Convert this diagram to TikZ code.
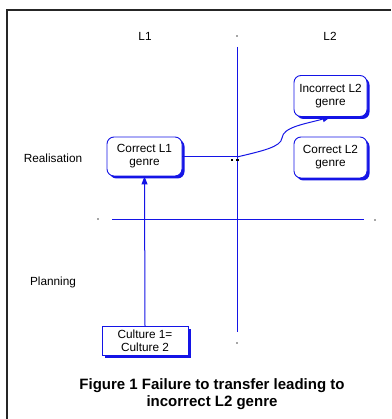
\documentclass[tikz,border=0pt]{standalone}
\usepackage{fontspec}
\setmainfont{Liberation Sans}
\usetikzlibrary{arrows.meta,shadows}
\definecolor{lineblue}{RGB}{20,20,230}
\tikzset{
  genrebox/.style={draw=lineblue, line width=0.9pt, fill=white, rounded corners=7pt,
    minimum width=75pt, minimum height=39pt, align=center, font=\fontsize{11.8}{13}\selectfont,
    drop shadow={shadow xshift=2.5pt, shadow yshift=-2.5pt, fill=lineblue, opacity=1}},
  culturebox/.style={draw=lineblue, line width=0.9pt, fill=white,
    minimum width=86pt, minimum height=28pt, align=center, font=\fontsize{11.8}{13}\selectfont,
    drop shadow={shadow xshift=2.5pt, shadow yshift=-2.5pt, fill=lineblue, opacity=1}},
  axis/.style={draw=lineblue, line width=1pt},
  link/.style={draw=lineblue, line width=1pt},
  arrowlink/.style={link, -{Triangle[length=8pt,width=6pt]}},
  label/.style={font=\fontsize{11.8}{13}\selectfont},
  caption/.style={font=\bfseries\fontsize{15}{17}\selectfont, align=center},
  tick/.style={fill=gray!70, inner sep=0pt, minimum size=1.2pt},
}
\begin{document}
\begin{tikzpicture}[x=1pt,y=-1pt]
\useasboundingbox (0,0) rectangle (391,419);
\fill[white] (0,0) rectangle (391,419);

% page frame (top and left edges)
\draw[line width=1.4pt, black!85] (7,419) -- (7,10) -- (391,10);

% column and row labels
\node[label] (l1) at (145,36) {L1};
\node[label] (l2) at (330,36) {L2};
\node[label] (real) at (53,158) {Realisation};
\node[label] (plan) at (53,282) {Planning};

% axes
\coordinate (vtop) at (237,47);
\coordinate (vbot) at (237,332);
\coordinate (hleft) at (112,219);
\coordinate (hright) at (364,219);
\draw[axis] (vtop) -- (vbot);
\draw[axis] (hleft) -- (hright);

% faint end marks
\node[tick] (m1) at (237,36) {};
\node[tick] (m2) at (237,343) {};
\node[tick] (m3) at (98,219) {};
\node[tick] (m4) at (375,220) {};

% genre boxes
\node[genrebox] (cl1) at (144.5,156.5) {Correct L1\\genre};
\node[genrebox, minimum width=73pt, minimum height=41pt] (il2) at (330.5,96) {Incorrect L2\\genre};
\node[genrebox, minimum width=73pt, minimum height=41pt] (cl2) at (330.5,157.5) {Correct L2\\genre};
\node[culturebox] (cult) at (145,341) {Culture 1=\\Culture 2};

% transfer path
\coordinate (junc) at (237,157);
\draw[link] (cl1.east |- junc) -- (junc);
\fill[black] (231,159) rectangle (233,161);
\fill[black] (236,159) rectangle (238.5,161);
\draw[arrowlink] (junc) .. controls (262,151) and (281,147) .. (282,138)
  .. controls (283,127) and (305,124) .. (il2.south);
\draw[arrowlink] (cult.north) -- (cl1.south);

% caption
\node[caption] (cap) at (212,394) {Figure 1 Failure to transfer leading to\\incorrect L2 genre};
\end{tikzpicture}
\end{document}
